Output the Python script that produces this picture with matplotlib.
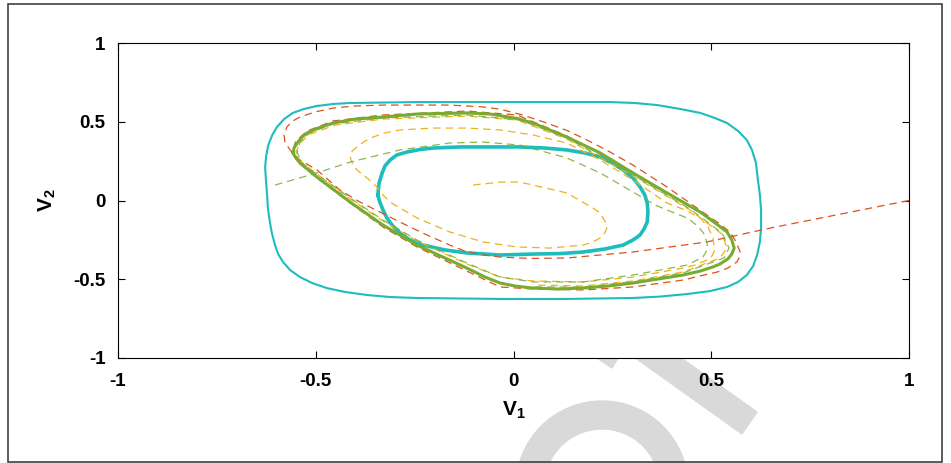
import numpy as np
import matplotlib.pyplot as plt
import matplotlib.patches as mpatches
import matplotlib.transforms as mtransforms

plt.rcParams['font.family'] = ['Liberation Sans', 'DejaVu Sans']
plt.rcParams['font.weight'] = 'bold'
plt.rcParams['mathtext.fontset'] = 'custom'
plt.rcParams['mathtext.bf'] = 'Liberation Sans:bold'
plt.rcParams['mathtext.rm'] = 'Liberation Sans:bold'

# outer (large) cycle, thin cyan
outer_v1 = [-0.497, -0.456, -0.413, -0.244, 0.009, 0.244, 0.307, 0.363, 0.422, 0.472, 0.509,
            0.540, 0.568, 0.590, 0.603, 0.613, 0.618, 0.623, 0.626, 0.626, 0.623, 0.616,
            0.606, 0.590, 0.568, 0.540, 0.497, 0.439, 0.370, 0.302, 0.135, -0.034, -0.244,
            -0.312, -0.370, -0.426, -0.472, -0.509, -0.540, -0.565, -0.583, -0.595, -0.603,
            -0.611, -0.616, -0.621, -0.623, -0.626, -0.628, -0.625, -0.620, -0.610, -0.598,
            -0.580, -0.558, -0.530, -0.497]
outer_v2 = [0.600, 0.613, 0.619, 0.625, 0.625, 0.625, 0.619, 0.606, 0.581, 0.556, 0.524,
            0.492, 0.441, 0.384, 0.321, 0.238, 0.130, 0.035, -0.060, -0.175, -0.263, -0.346,
            -0.416, -0.473, -0.517, -0.549, -0.575, -0.594, -0.610, -0.619, -0.625, -0.625, -0.619,
            -0.613, -0.600, -0.581, -0.556, -0.524, -0.486, -0.441, -0.390, -0.340, -0.283,
            -0.206, -0.137, -0.048, 0.035, 0.130, 0.213, 0.289, 0.352, 0.416, 0.467,
            0.517, 0.556, 0.581, 0.600]

# inner cycle, thick cyan
inner_v1 = [-0.343, -0.340, -0.332, -0.325, -0.312, -0.295, -0.269, -0.236, -0.204, -0.135,
            -0.077, 0.016, 0.080, 0.135, 0.180, 0.219, 0.249, 0.277, 0.302, 0.320, 0.332,
            0.338, 0.340, 0.338, 0.330, 0.320, 0.302, 0.277, 0.231, 0.176, 0.118, 0.049,
            -0.034, -0.118, -0.173, -0.229, -0.262, -0.287, -0.305, -0.320, -0.330, -0.338, -0.343]
inner_v2 = [0.035, 0.111, 0.175, 0.219, 0.257, 0.289, 0.308, 0.324, 0.333, 0.340,
            0.340, 0.340, 0.333, 0.321, 0.302, 0.276, 0.238, 0.194, 0.143, 0.086, 0.035,
            -0.016, -0.073, -0.137, -0.181, -0.219, -0.251, -0.283, -0.308, -0.327, -0.337, -0.340,
            -0.346, -0.333, -0.314, -0.283, -0.251, -0.206, -0.162, -0.111, -0.060, -0.010, 0.035]

# limit cycle, thick green
limit_v1 = [-0.557, -0.555, -0.547, -0.537, -0.522, -0.494, -0.456, -0.401, -0.330, -0.244,
            -0.118, -0.059, 0.009, 0.049, 0.135, 0.219, 0.302, 0.388, 0.472, 0.507, 0.540,
            0.552, 0.558, 0.552, 0.542, 0.522, 0.504, 0.472, 0.429, 0.302, 0.239, 0.176,
            0.113, 0.049, 0.004, -0.034, -0.072, -0.118, -0.244, -0.330, -0.413, -0.497,
            -0.540, -0.552, -0.557]
limit_v2 = [0.302, 0.333, 0.365, 0.397, 0.429, 0.460, 0.492, 0.517, 0.530, 0.549,
            0.556, 0.549, 0.521, 0.492, 0.403, 0.302, 0.175, 0.048, -0.073, -0.137, -0.200,
            -0.251, -0.302, -0.340, -0.371, -0.403, -0.422, -0.448, -0.473, -0.524, -0.543, -0.556,
            -0.562, -0.556, -0.543, -0.524, -0.486, -0.429, -0.283, -0.156, -0.010, 0.149,
            0.238, 0.276, 0.302]

# trajectory from (1, 0), dashed red
red_v1 = [1.000, 0.649, 0.489, 0.302, 0.135, 0.042, -0.034, -0.077, -0.123, -0.161, -0.224,
          -0.287, -0.338, -0.388, -0.439, -0.497, -0.540, -0.565, -0.578, -0.580, -0.573,
          -0.558, -0.540, -0.502, -0.456, -0.401, -0.330, -0.161, -0.080, -0.034, 0.020,
          0.075, 0.135, 0.186, 0.244, 0.302, 0.388, 0.464, 0.489, 0.522, 0.547, 0.563,
          0.573, 0.570, 0.565, 0.542, 0.515, 0.472, 0.429, 0.302, 0.176, 0.049, -0.034,
          -0.118, -0.244, -0.330, -0.413, -0.497, -0.545, -0.560, -0.550, -0.522, -0.456,
          -0.330, -0.118, 0.009, 0.135, 0.302]
red_v2 = [0.000, -0.175, -0.263, -0.327, -0.365, -0.368, -0.359, -0.346, -0.321, -0.283, -0.213,
          -0.137, -0.073, -0.010, 0.067, 0.194, 0.257, 0.321, 0.371, 0.416, 0.467,
          0.505, 0.530, 0.562, 0.587, 0.600, 0.606, 0.606, 0.595, 0.580, 0.545,
          0.500, 0.445, 0.384, 0.308, 0.225, 0.086, -0.048, -0.092, -0.149, -0.200, -0.263,
          -0.327, -0.365, -0.390, -0.429, -0.454, -0.479, -0.505, -0.549, -0.568, -0.562, -0.549,
          -0.448, -0.295, -0.168, -0.016, 0.143, 0.244, 0.308, 0.378, 0.441, 0.505,
          0.543, 0.568, 0.543, 0.410, 0.180]

# trajectory from inside, dashed orange
orange_v1 = [-0.102, -0.034, 0.016, 0.049, 0.135, 0.201, 0.219, 0.234, 0.236, 0.231, 0.219,
             0.201, 0.176, 0.092, 0.009, -0.077, -0.161, -0.244, -0.312, -0.330, -0.345,
             -0.370, -0.396, -0.408, -0.413, -0.408, -0.396, -0.375, -0.355, -0.325, -0.287,
             -0.204, -0.118, -0.034, 0.049, 0.135, 0.219, 0.302, 0.388, 0.434, 0.472,
             0.492, 0.504, 0.509, 0.502, 0.489, 0.459, 0.429, 0.302, 0.176, 0.049,
             -0.034, -0.118, -0.244, -0.330, -0.413, -0.497, -0.540, -0.550, -0.540, -0.514,
             -0.451, -0.330, -0.118, 0.009, 0.135, 0.302, 0.446, 0.527, 0.540, 0.522,
             0.429, 0.302, 0.176, 0.049]
orange_v2 = [0.098, 0.117, 0.117, 0.098, 0.048, -0.048, -0.079, -0.143, -0.175, -0.206, -0.238,
             -0.263, -0.283, -0.302, -0.295, -0.263, -0.200, -0.111, -0.010, 0.035, 0.086,
             0.143, 0.194, 0.238, 0.276, 0.314, 0.340, 0.378, 0.403, 0.429, 0.448,
             0.460, 0.460, 0.448, 0.416, 0.365, 0.257, 0.130, -0.016, -0.060, -0.111,
             -0.168, -0.238, -0.314, -0.352, -0.378, -0.410, -0.429, -0.486, -0.517, -0.511,
             -0.486, -0.403, -0.257, -0.130, 0.010, 0.168, 0.251, 0.308, 0.365, 0.422,
             0.479, 0.517, 0.536, 0.511, 0.390, 0.156, -0.060, -0.213, -0.302, -0.365,
             -0.454, -0.511, -0.543, -0.537]

# trajectory from the left, dashed green
green_v1 = [-0.603, -0.497, -0.413, -0.287, -0.161, -0.077, 0.016, 0.135, 0.219, 0.302, 0.358,
            0.401, 0.439, 0.466, 0.484, 0.492, 0.479, 0.439, 0.302, 0.176, 0.049, -0.034,
            -0.118, -0.244, -0.330, -0.413, -0.497, -0.537, -0.547, -0.540, -0.515, -0.456,
            -0.330, -0.118, 0.016, 0.135, 0.302, 0.446, 0.527, 0.545, 0.532, 0.429, 0.302,
            0.176, 0.049]
green_v2 = [0.098, 0.175, 0.244, 0.321, 0.365, 0.371, 0.352, 0.270, 0.175, 0.054, -0.029,
            -0.073, -0.111, -0.162, -0.219, -0.302, -0.359, -0.410, -0.473, -0.517, -0.517, -0.486,
            -0.397, -0.251, -0.124, 0.016, 0.165, 0.244, 0.308, 0.370, 0.430, 0.486,
            0.524, 0.543, 0.511, 0.397, 0.162, -0.054, -0.206, -0.302, -0.365, -0.460, -0.517,
            -0.549, -0.549]

ticks = [-1, -0.5, 0, 0.5, 1]
tick_labels = ['-1', '-0.5', '0', '0.5', '1']

W, H = 951, 463
fig = plt.figure(figsize=(W / 100, H / 100), dpi=100)
ax = fig.add_axes([118 / W, 1 - 358 / H, 791 / W, 315 / H])

cyan = '#1DBDBD'
green = '#77AC30'
yellow = '#EDB120'
red = '#D95319'
dash = (0, (6, 4))

ax.plot(outer_v1, outer_v2, color=cyan, lw=1.5)
ax.plot(inner_v1, inner_v2, color=cyan, lw=2.6)
ax.plot(red_v1, red_v2, color=red, lw=0.9, ls=dash)
ax.plot(orange_v1, orange_v2, color=yellow, lw=0.9, ls=dash)
ax.plot(green_v1, green_v2, color=green, lw=0.9, ls=dash, alpha=0.85)
ax.plot(limit_v1, limit_v2, color=green, lw=2.2)

ax.set_xlim(-1, 1)
ax.set_ylim(-1, 1)
ax.set_xticks(ticks)
ax.set_xticklabels(tick_labels)
ax.set_yticks(ticks)
ax.set_yticklabels(tick_labels)
ax.tick_params(direction='in', length=5, width=0.8, top=True, right=True,
               labelsize=13.5, pad=9)
ax.tick_params(axis='x', pad=11)
for s in ax.spines.values():
    s.set_linewidth(0.8)
ax.set_xlabel(r'$\mathbf{V_1}$', fontsize=15, labelpad=7)
ax.set_ylabel(r'$\mathbf{V_2}$', fontsize=15, labelpad=11)

# light gray watermark pieces (behind the axes), in pixel coordinates
px = mtransforms.Affine2D().scale(1 / W, -1 / H).translate(0, 1) + fig.transFigure
wm = '#D9D9D9'
fig.patches.append(mpatches.Wedge((602, 487), 86, 0, 360, width=28, color=wm,
                                  transform=px, zorder=-1))
fig.patches.append(mpatches.Polygon([(742, 434), (757, 412), (607, 305), (592, 327)],
                                    color=wm, transform=px, zorder=-1))
fig.patches.append(mpatches.Polygon([(590, 330), (628, 330), (618, 358), (612, 368), (597, 358)],
                                    color=wm, transform=px, zorder=-1))
# frame around the figure
fig.patches.append(mpatches.Rectangle((8, 4), 934, 458, fill=False, ec='#404040', lw=1.2,
                                      transform=px, zorder=5))

fig.savefig('out.png', dpi=100)
